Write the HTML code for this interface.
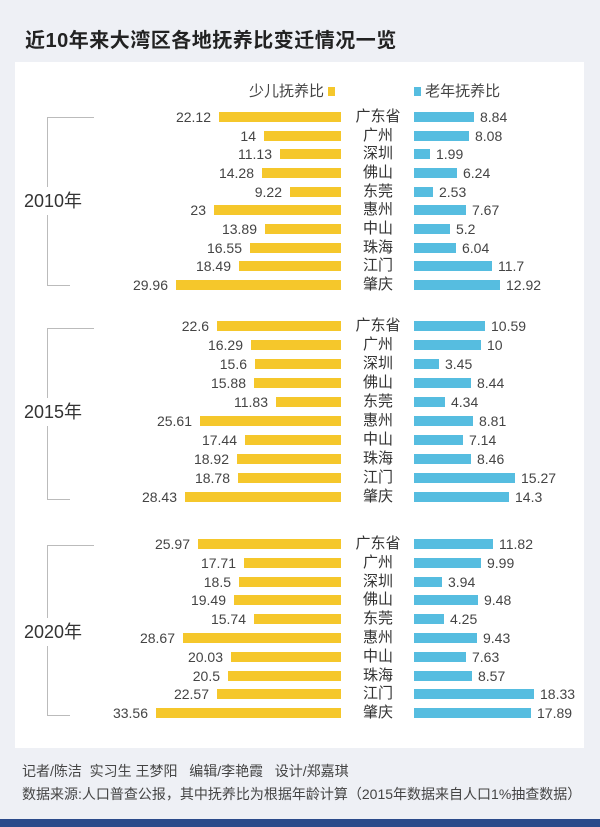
<!DOCTYPE html>
<html><head><meta charset="utf-8"><style>
body{margin:0;width:600px;height:827px;background:#eef0f5;position:relative;overflow:hidden;font-family:"Liberation Sans","Noto Sans CJK SC",sans-serif;color:#333}
.panel{position:absolute;left:15px;top:62px;width:569px;height:686px;background:#fff}
.title{position:absolute;left:25px;top:24px;font-size:20px;font-weight:bold;color:#222;letter-spacing:0.5px}
.r{position:absolute;left:0;width:600px;height:18px}
.yl{position:absolute;right:259px;top:0;height:18px;display:flex;align-items:center;flex-direction:row-reverse}
.yl i{display:block;height:10px;background:#f5c72b;margin-left:8px}
.bl{position:absolute;left:414px;top:0;height:18px;display:flex;align-items:center}
.bl i{display:block;height:10px;background:#56bde0;margin-right:6px}
.yl span,.bl span{font-size:14px;color:#444;line-height:18px}
.c{position:absolute;left:340px;width:76px;text-align:center;font-size:15px;line-height:18px;color:#333}
.bv{position:absolute;left:47px;width:0;border-left:1px solid #bbb}
.bt{position:absolute;left:47px;width:47px;border-top:1px solid #bbb}
.bb{position:absolute;left:47px;width:23px;border-top:1px solid #bbb}
.yr{position:absolute;left:24px;font-size:18px;color:#333;background:#fff;padding:4px 0;line-height:20px}
.leg{position:absolute;top:80px;font-size:15px;color:#444}
.foot{position:absolute;left:22px;font-size:14px;color:#444;white-space:nowrap}
.bar{position:absolute;left:0;top:819px;width:600px;height:8px;background:#2b4a8a}
</style></head><body>
<div class="title">近10年来大湾区各地抚养比变迁情况一览</div>
<div class="panel"></div>
<div class="leg" style="left:249px">少儿抚养比 <span style="display:inline-block;width:7px;height:9px;background:#f5c72b"></span></div>
<div class="leg" style="left:414px"><span style="display:inline-block;width:7px;height:9px;background:#56bde0"></span> 老年抚养比</div>

<div class="bv" style="top:117px;height:168px"></div><div class="bt" style="top:117px"></div><div class="bb" style="top:285px"></div><div class="yr" style="top:187px">2010年</div>
<div class="bv" style="top:328px;height:171px"></div><div class="bt" style="top:328px"></div><div class="bb" style="top:499px"></div><div class="yr" style="top:398px">2015年</div>
<div class="bv" style="top:545px;height:170px"></div><div class="bt" style="top:545px"></div><div class="bb" style="top:715px"></div><div class="yr" style="top:618px">2020年</div>

<div class="r" style="top:108px"><div class="yl"><i style="width:122px"></i><span>22.12</span></div><div class="c">广东省</div><div class="bl"><i style="width:60px"></i><span>8.84</span></div></div>
<div class="r" style="top:127px"><div class="yl"><i style="width:77px"></i><span>14</span></div><div class="c">广州</div><div class="bl"><i style="width:55px"></i><span>8.08</span></div></div>
<div class="r" style="top:145px"><div class="yl"><i style="width:61px"></i><span>11.13</span></div><div class="c">深圳</div><div class="bl"><i style="width:16px"></i><span>1.99</span></div></div>
<div class="r" style="top:164px"><div class="yl"><i style="width:79px"></i><span>14.28</span></div><div class="c">佛山</div><div class="bl"><i style="width:43px"></i><span>6.24</span></div></div>
<div class="r" style="top:183px"><div class="yl"><i style="width:51px"></i><span>9.22</span></div><div class="c">东莞</div><div class="bl"><i style="width:19px"></i><span>2.53</span></div></div>
<div class="r" style="top:201px"><div class="yl"><i style="width:127px"></i><span>23</span></div><div class="c">惠州</div><div class="bl"><i style="width:52px"></i><span>7.67</span></div></div>
<div class="r" style="top:220px"><div class="yl"><i style="width:76px"></i><span>13.89</span></div><div class="c">中山</div><div class="bl"><i style="width:36px"></i><span>5.2</span></div></div>
<div class="r" style="top:239px"><div class="yl"><i style="width:91px"></i><span>16.55</span></div><div class="c">珠海</div><div class="bl"><i style="width:42px"></i><span>6.04</span></div></div>
<div class="r" style="top:257px"><div class="yl"><i style="width:102px"></i><span>18.49</span></div><div class="c">江门</div><div class="bl"><i style="width:78px"></i><span>11.7</span></div></div>
<div class="r" style="top:276px"><div class="yl"><i style="width:165px"></i><span>29.96</span></div><div class="c">肇庆</div><div class="bl"><i style="width:86px"></i><span>12.92</span></div></div>

<div class="r" style="top:317px"><div class="yl"><i style="width:124px"></i><span>22.6</span></div><div class="c">广东省</div><div class="bl"><i style="width:71px"></i><span>10.59</span></div></div>
<div class="r" style="top:336px"><div class="yl"><i style="width:90px"></i><span>16.29</span></div><div class="c">广州</div><div class="bl"><i style="width:67px"></i><span>10</span></div></div>
<div class="r" style="top:355px"><div class="yl"><i style="width:86px"></i><span>15.6</span></div><div class="c">深圳</div><div class="bl"><i style="width:25px"></i><span>3.45</span></div></div>
<div class="r" style="top:374px"><div class="yl"><i style="width:87px"></i><span>15.88</span></div><div class="c">佛山</div><div class="bl"><i style="width:57px"></i><span>8.44</span></div></div>
<div class="r" style="top:393px"><div class="yl"><i style="width:65px"></i><span>11.83</span></div><div class="c">东莞</div><div class="bl"><i style="width:31px"></i><span>4.34</span></div></div>
<div class="r" style="top:412px"><div class="yl"><i style="width:141px"></i><span>25.61</span></div><div class="c">惠州</div><div class="bl"><i style="width:59px"></i><span>8.81</span></div></div>
<div class="r" style="top:431px"><div class="yl"><i style="width:96px"></i><span>17.44</span></div><div class="c">中山</div><div class="bl"><i style="width:49px"></i><span>7.14</span></div></div>
<div class="r" style="top:450px"><div class="yl"><i style="width:104px"></i><span>18.92</span></div><div class="c">珠海</div><div class="bl"><i style="width:57px"></i><span>8.46</span></div></div>
<div class="r" style="top:469px"><div class="yl"><i style="width:103px"></i><span>18.78</span></div><div class="c">江门</div><div class="bl"><i style="width:101px"></i><span>15.27</span></div></div>
<div class="r" style="top:488px"><div class="yl"><i style="width:156px"></i><span>28.43</span></div><div class="c">肇庆</div><div class="bl"><i style="width:95px"></i><span>14.3</span></div></div>

<div class="r" style="top:535px"><div class="yl"><i style="width:143px"></i><span>25.97</span></div><div class="c">广东省</div><div class="bl"><i style="width:79px"></i><span>11.82</span></div></div>
<div class="r" style="top:554px"><div class="yl"><i style="width:97px"></i><span>17.71</span></div><div class="c">广州</div><div class="bl"><i style="width:67px"></i><span>9.99</span></div></div>
<div class="r" style="top:573px"><div class="yl"><i style="width:102px"></i><span>18.5</span></div><div class="c">深圳</div><div class="bl"><i style="width:28px"></i><span>3.94</span></div></div>
<div class="r" style="top:591px"><div class="yl"><i style="width:107px"></i><span>19.49</span></div><div class="c">佛山</div><div class="bl"><i style="width:64px"></i><span>9.48</span></div></div>
<div class="r" style="top:610px"><div class="yl"><i style="width:87px"></i><span>15.74</span></div><div class="c">东莞</div><div class="bl"><i style="width:30px"></i><span>4.25</span></div></div>
<div class="r" style="top:629px"><div class="yl"><i style="width:158px"></i><span>28.67</span></div><div class="c">惠州</div><div class="bl"><i style="width:63px"></i><span>9.43</span></div></div>
<div class="r" style="top:648px"><div class="yl"><i style="width:110px"></i><span>20.03</span></div><div class="c">中山</div><div class="bl"><i style="width:52px"></i><span>7.63</span></div></div>
<div class="r" style="top:667px"><div class="yl"><i style="width:113px"></i><span>20.5</span></div><div class="c">珠海</div><div class="bl"><i style="width:58px"></i><span>8.57</span></div></div>
<div class="r" style="top:685px"><div class="yl"><i style="width:124px"></i><span>22.57</span></div><div class="c">江门</div><div class="bl"><i style="width:120px"></i><span>18.33</span></div></div>
<div class="r" style="top:704px"><div class="yl"><i style="width:185px"></i><span>33.56</span></div><div class="c">肇庆</div><div class="bl"><i style="width:117px"></i><span>17.89</span></div></div>

<div class="foot" style="top:761px">记者/陈洁&nbsp; 实习生 王梦阳&nbsp;&nbsp; 编辑/李艳霞&nbsp;&nbsp; 设计/郑嘉琪</div>
<div class="foot" style="top:784px">数据来源:人口普查公报，其中抚养比为根据年龄计算（2015年数据来自人口1%抽查数据）</div>
<div class="bar"></div>
</body></html>
